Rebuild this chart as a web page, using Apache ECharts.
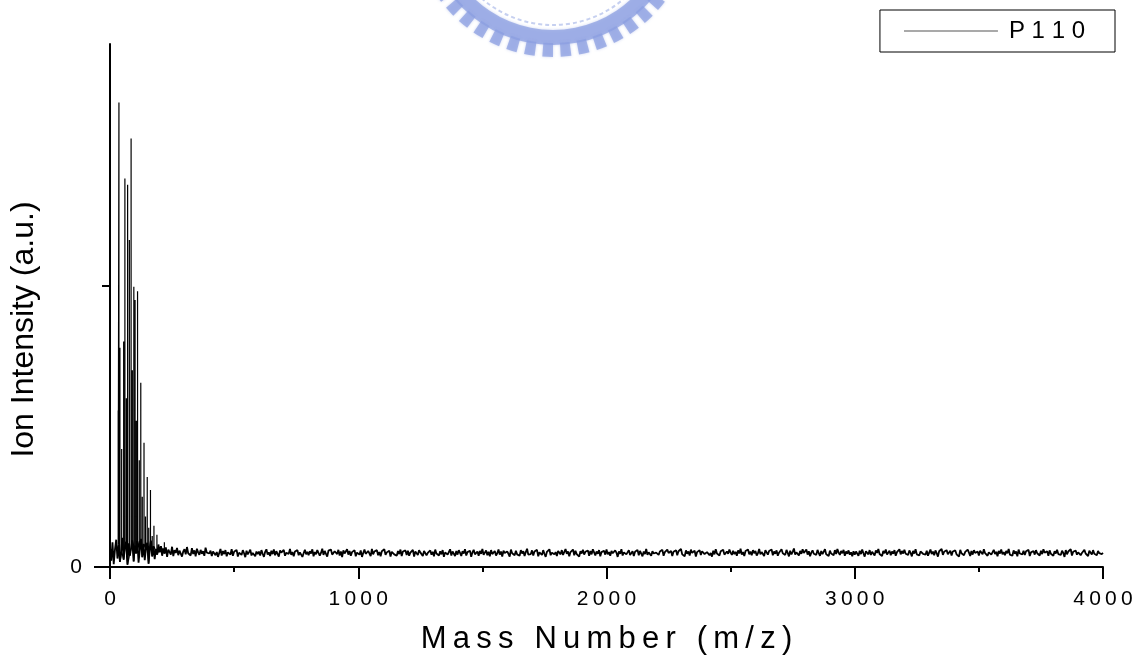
<!DOCTYPE html>
<html>
<head>
<meta charset="utf-8">
<script src="https://cdn.jsdelivr.net/npm/echarts@6/dist/echarts.min.js"></script>
<style>
  html, body { margin: 0; padding: 0; background: #fff; }
  #chart { width: 1141px; height: 660px; }
</style>
</head>
<body>
<div id="chart"></div>
<script>
// P110 mass spectrum: ion intensity (a.u.) against m/z

const seriesName = 'P110';
const xTitle = 'Mass Number (m/z)';
const yTitle = 'Ion Intensity (a.u.)';
const xTicks = [0, 1000, 2000, 3000, 4000];
const yTickValues = [0, 1000];
const yLabelValues = [0];

// baseline trace, evenly sampled from 0 to 4000 m/z (every 5 m/z)
const baselineEnd = 4000;
const baseline = [
  70,22,88,10,62,97,30,80,18,55,104,26,72,90,8,84,40,66,95,20,76,48,92,15,60,100,35,82,24,68,86,12,58,94,38,74,28,64,44,80,
  52,74,40,66,48,70,36,62,57,44,72,39,60,50,68,42,58,64,37,55,63,45,71,49,54,41,67,46,59,38,65,52,43,61,47,56,40,69,51,45,
  48,58,39,55,62,42,53,36,50,64,41,57,46,60,38,52,59,44,63,40,54,47,61,37,51,56,43,60,49,35,58,45,53,62,41,50,57,38,55,46,
  55,41,60,47,36,54,63,44,52,39,58,46,62,42,56,49,37,59,51,45,61,40,50,57,47,64,43,53,38,55,48,60,42,52,58,36,49,61,45,54,
  42,56,48,63,38,53,45,60,54,40,50,65,43,57,47,37,58,51,62,44,39,56,50,46,61,41,55,35,59,48,52,63,44,57,40,53,47,60,38,51,
  53,44,59,36,50,62,47,41,57,51,39,64,45,55,48,60,42,53,38,56,49,63,43,52,47,58,37,54,61,45,50,40,57,46,62,39,55,48,59,43,
  58,40,51,46,61,37,55,49,43,60,52,45,39,57,63,42,50,47,59,44,54,38,62,48,53,41,56,45,60,36,52,58,44,50,63,41,55,47,39,57,
  44,60,50,39,56,48,63,41,53,46,58,36,52,61,45,49,55,40,57,47,64,43,51,59,42,54,38,60,46,52,57,41,49,62,44,55,37,58,50,45,
  55,47,37,62,49,54,42,58,45,51,40,60,48,56,39,53,65,44,50,46,59,41,55,48,61,38,52,57,43,60,47,36,54,49,63,42,51,58,45,53,
  39,57,52,45,60,43,50,64,47,55,38,53,49,62,42,58,46,51,37,56,48,61,44,54,50,59,40,57,45,63,52,41,55,47,60,38,53,49,58,44,
  62,45,53,40,57,49,44,59,51,36,55,47,63,41,52,58,45,50,60,43,49,56,39,54,47,61,42,57,50,38,55,46,64,43,52,59,40,56,48,53,
  51,58,43,55,48,61,40,53,46,62,50,44,57,39,54,47,60,42,56,49,64,45,52,38,59,47,55,41,62,50,44,58,37,53,48,60,43,56,51,46,
  46,53,60,42,50,37,58,45,63,48,52,41,56,49,61,44,38,55,47,62,51,43,58,46,54,40,59,48,65,44,53,39,57,50,62,45,55,42,60,49,
  57,41,49,64,45,53,48,39,60,52,44,57,50,62,42,55,47,59,40,51,46,63,49,56,43,61,50,38,58,45,54,66,44,52,59,41,57,47,63,50,
  50,62,44,56,38,51,59,47,54,43,61,49,40,57,46,53,63,45,50,39,58,48,55,42,60,46,64,51,43,57,49,61,40,55,47,59,44,52,38,56,
  44,55,51,40,58,46,62,49,37,56,52,45,60,43,54,48,41,59,50,64,46,53,39,57,49,62,44,51,58,42,55,47,60,40,53,49,63,45,57,48,
  61,47,54,43,59,50,38,57,48,63,45,52,41,55,60,47,53,44,58,40,51,62,46,55,42,59,49,37,56,51,64,43,54,47,60,45,52,58,41,55,
  48,59,45,52,37,61,49,56,42,54,47,62,51,39,57,44,60,50,46,55,41,58,53,45,63,49,56,40,52,59,44,50,61,46,54,38,57,48,62,45,
  53,42,57,49,64,44,51,40,59,47,55,38,62,48,53,45,58,43,56,50,61,39,52,47,57,44,60,49,54,41,58,46,63,51,44,56,40,59,47,53,
  40,56,48,61,46,53,43,58,50,36,60,45,55,49,63,41,54,47,59,44,52,57,42,50,46,61,48,55,39,58,51,44,60,47,53,42,57,49,55,46,
  50
];

// fragment peaks in the low-mass region
const peakMass = [33, 36, 40, 47, 55, 60, 66, 71, 78, 85, 90, 96, 101, 106, 111, 118, 124, 130, 137, 143, 150, 156, 163, 170, 177, 189, 205, 219];
const peakHeight = [557, 1652, 780, 420, 802, 1382, 600, 1359, 1163, 1524, 700, 997, 950, 520, 981, 380, 655, 250, 442, 180, 320, 140, 274, 110, 147, 115, 75, 88];

const baselineStep = baselineEnd / (baseline.length - 1);
const baselineTrace = baseline.map((v, i) => [i * baselineStep, v]);

// each peak is a thin vertical stroke rising from the local baseline
const peakTrace = [];
peakMass.forEach((m, k) => {
  const base = baseline[Math.min(baseline.length - 1, Math.round(m / baselineStep))];
  peakTrace.push([m, base], [m, peakHeight[k]], [m, base]);
});

const font = 'Liberation Sans, Arial, Helvetica, sans-serif';
const spaced = (s, sep) => String(s).split('').join(sep);

// faint seal emblem at the top edge of the page
const sealX = 553, sealY = -84;
const sealColor = 'rgba(138,158,224,0.72)';
const sealSoft = { shadowBlur: 3, shadowColor: 'rgba(138,158,224,0.6)' };
const seal = [];
seal.push({
  type: 'ring', silent: true, z: 0,
  shape: { cx: sealX, cy: sealY, r: 129, r0: 114 },
  style: Object.assign({ fill: sealColor }, sealSoft)
});
const teeth = 48;
for (let i = 0; i < teeth; i++) {
  const a = (i / teeth) * Math.PI * 2;
  seal.push({
    type: 'sector', silent: true, z: 0,
    shape: { cx: sealX, cy: sealY, r0: 127, r: 141, startAngle: a, endAngle: a + (Math.PI * 2 / teeth) * 0.58 },
    style: Object.assign({ fill: sealColor }, sealSoft)
  });
}
seal.push({
  type: 'circle', silent: true, z: 0,
  shape: { cx: sealX, cy: sealY, r: 109 },
  style: { fill: null, stroke: 'rgba(160,176,230,0.6)', lineWidth: 2, lineDash: [4, 3] }
});

const chart = echarts.init(document.getElementById('chart'), null, { renderer: 'canvas' });
chart.setOption({
  backgroundColor: '#fff',
  animation: false,
  graphic: seal,
  grid: { left: 106, right: 38, top: 44, bottom: 89, containLabel: false },
  legend: {
    data: [{ name: seriesName, icon: 'path://M0,0 L100,0 L100,1 L0,1 Z' }],
    right: 26, top: 10,
    padding: [9, 30, 9, 24],
    borderColor: '#000', borderWidth: 1,
    itemWidth: 94, itemHeight: 1,
    itemStyle: { color: '#555', borderWidth: 0 },
    textStyle: { fontFamily: font, fontSize: 24, color: '#000', padding: [0, 0, 0, 6], lineHeight: 24 },
    formatter: n => spaced(n, ' ')
  },
  xAxis: {
    type: 'value', min: xTicks[0], max: xTicks[xTicks.length - 1], interval: 1000,
    name: spaced(xTitle, '\u2009'), nameLocation: 'middle', nameGap: 57,
    nameTextStyle: { fontFamily: font, fontSize: 31, color: '#000' },
    axisLine: { show: true, onZero: false, lineStyle: { color: '#000', width: 2 } },
    axisTick: { show: true, inside: false, length: 12, lineStyle: { color: '#000', width: 2 } },
    minorTick: { show: true, splitNumber: 2, length: 5, lineStyle: { color: '#000', width: 2 } },
    axisLabel: { fontFamily: font, fontSize: 21, color: '#000', margin: 22, formatter: v => spaced(v, '\u2009') },
    splitLine: { show: false }, minorSplitLine: { show: false }
  },
  yAxis: [{
    type: 'value', min: 0, max: 1860,
    name: yTitle, nameLocation: 'middle', nameGap: 70,
    nameTextStyle: { fontFamily: font, fontSize: 32, color: '#000', padding: [0, 48, 0, 0] },
    axisLine: { show: true, onZero: false, lineStyle: { color: '#000', width: 2 } },
    axisTick: { show: true, length: 16, customValues: [yTickValues[0]], lineStyle: { color: '#000', width: 2 } },
    axisLabel: { fontFamily: font, fontSize: 21, color: '#000', margin: 28, customValues: yLabelValues },
    splitLine: { show: false }
  }, {
    type: 'value', min: 0, max: 1860, position: 'left',
    axisLine: { show: false },
    axisTick: { show: true, length: 8, customValues: [yTickValues[1]], lineStyle: { color: '#000', width: 2 } },
    axisLabel: { show: false },
    splitLine: { show: false }
  }],
  series: [{
    name: seriesName, type: 'line', yAxisIndex: 0,
    data: baselineTrace, symbol: 'none', showSymbol: false,
    lineStyle: { color: '#000', width: 1.8 },
    itemStyle: { color: '#555' },
    clip: true, z: 3
  }, {
    name: seriesName, type: 'line', yAxisIndex: 0,
    data: peakTrace, symbol: 'none', showSymbol: false,
    lineStyle: { color: '#000', width: 1.2 },
    itemStyle: { color: '#555' },
    clip: true, z: 3
  }]
});
</script>
</body>
</html>
